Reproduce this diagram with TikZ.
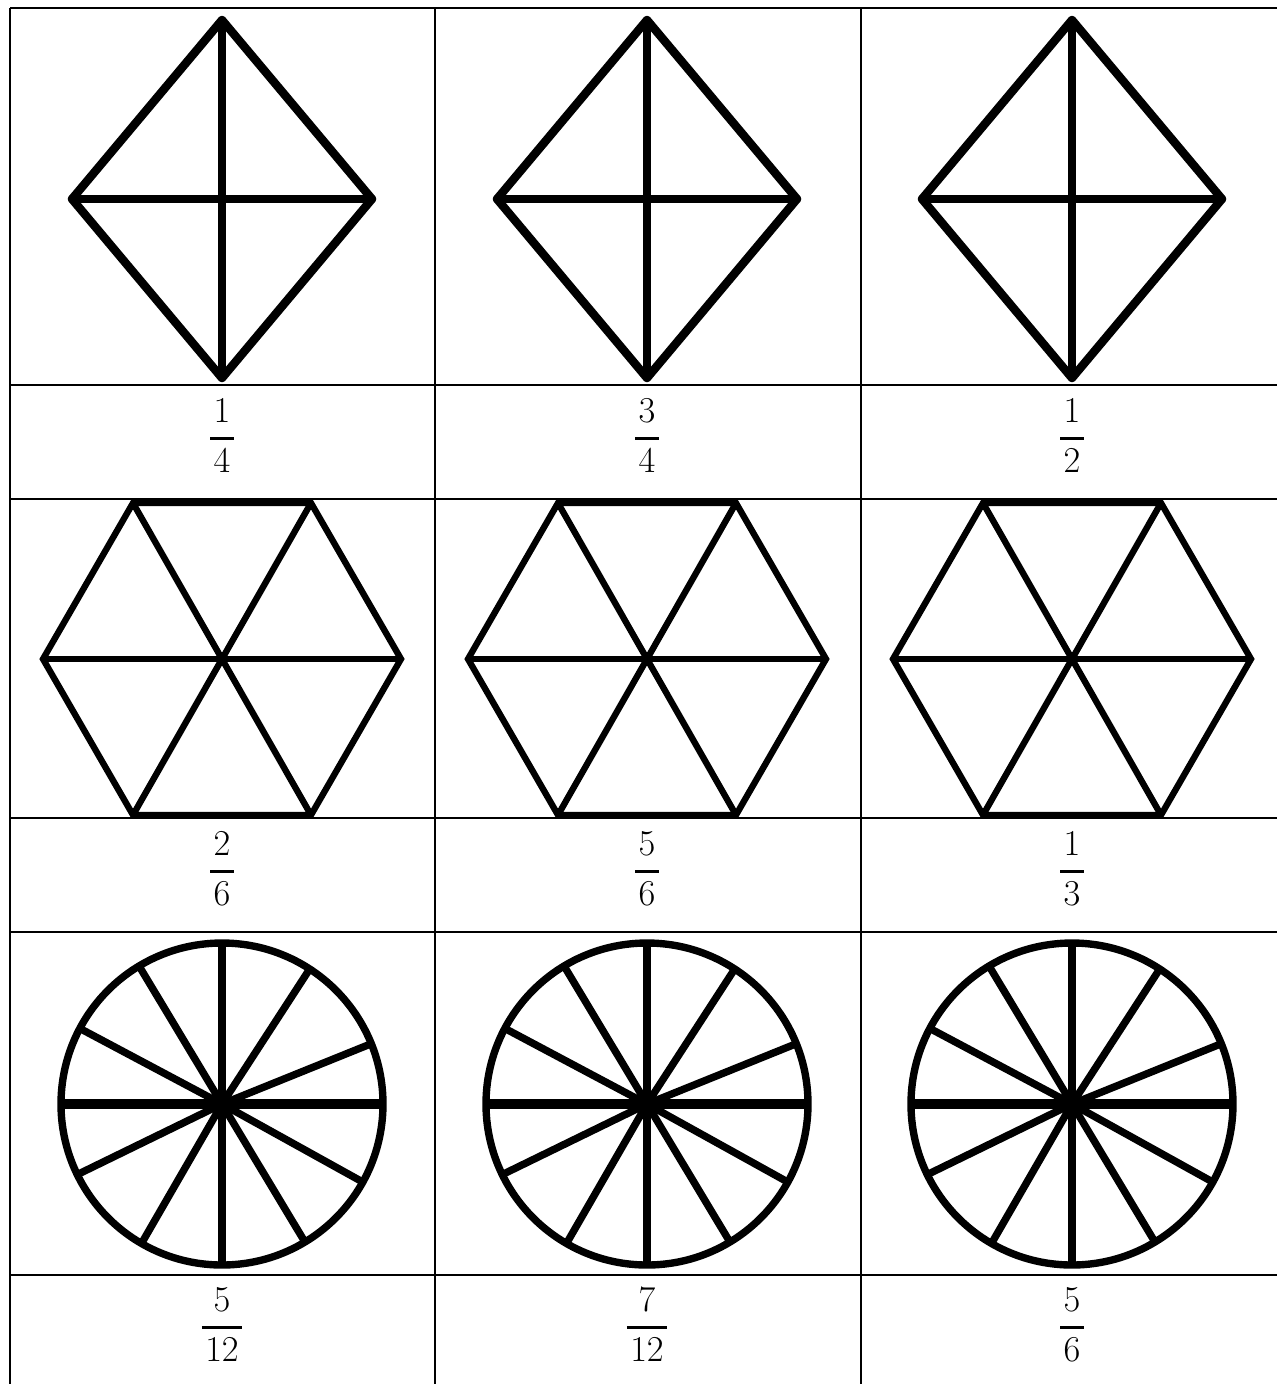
\documentclass[tikz,border=0pt]{standalone}
\usepackage{amsmath}
\usepackage{tikz}
\tikzset{
  grid line/.style={draw=black,line width=1pt},
  shape line/.style={draw=black,line width=4.8pt,line join=round,line cap=round},
  hex line/.style={draw=black,line width=3.6pt,line join=miter},
  wheel line/.style={draw=black,line width=4.2pt},
  frac/.style={inner sep=0pt,font=\fontsize{21}{25}\selectfont}
}
\newcommand{\qfrac}[2]{$\genfrac{}{}{1.5pt}{0}{\kern2pt#1\kern2pt}{\kern2pt#2\kern2pt}$}

\begin{document}
\begin{tikzpicture}[x=0.02cm,y=-0.02cm]
  \useasboundingbox[fill=white] (0,0) rectangle (1277,1384);
  % table
  \foreach \y in {8,385,499,818,932,1275} {\draw[grid line] (10,\y)--(1277,\y);}
  \foreach \x in {10,435,861} {\draw[grid line] (\x,8)--(\x,1384);}
  % row 1: diamonds
  \foreach \cx in {222,647,1072} {
    \draw[shape line] (\cx,20)--(\cx+150,199)--(\cx,378)--(\cx-150,199)--cycle;
    \draw[shape line] (\cx,20)--(\cx,378);
    \draw[shape line] (\cx-150,199)--(\cx+150,199);
  }
  % row 2: hexagons
  \foreach \cx in {222,647,1072} {
    \draw[hex line] (\cx-89,503)--(\cx+89,503)--(\cx+179,659)--(\cx+89,815)--(\cx-89,815)--(\cx-179,659)--cycle;
    \draw[hex line] (\cx-89,503)--(\cx+89,815);
    \draw[hex line] (\cx+89,503)--(\cx-89,815);
    \draw[hex line] (\cx-179,659)--(\cx+179,659);
  }
  % row 3: wheels
  \foreach \cx in {222,647,1072} {
    \draw[wheel line] (\cx,1104) circle (161);
    \draw[wheel line,line width=5.2pt] (\cx-161,1104)--(\cx+161,1104);
    \draw[wheel line,line width=4.8pt] (\cx,941)--(\cx,1267);
    \foreach \a in {22,57,121,152,206,240,301,331}
      \draw[wheel line] (\cx,1104)--({\cx+161*cos(\a)},{1104-161*sin(\a)});
  }
  % fractions
  \node[frac] (q1) at (222,436) {\qfrac{1}{4}};
  \node[frac] (q2) at (647,436) {\qfrac{3}{4}};
  \node[frac] (q3) at (1072,436) {\qfrac{1}{2}};
  \node[frac] (q4) at (222,869) {\qfrac{2}{6}};
  \node[frac] (q5) at (647,869) {\qfrac{5}{6}};
  \node[frac] (q6) at (1072,869) {\qfrac{1}{3}};
  \node[frac] (q7) at (222,1325) {\qfrac{5}{12}};
  \node[frac] (q8) at (647,1325) {\qfrac{7}{12}};
  \node[frac] (q9) at (1072,1325) {\qfrac{5}{6}};
\end{tikzpicture}
\end{document}
